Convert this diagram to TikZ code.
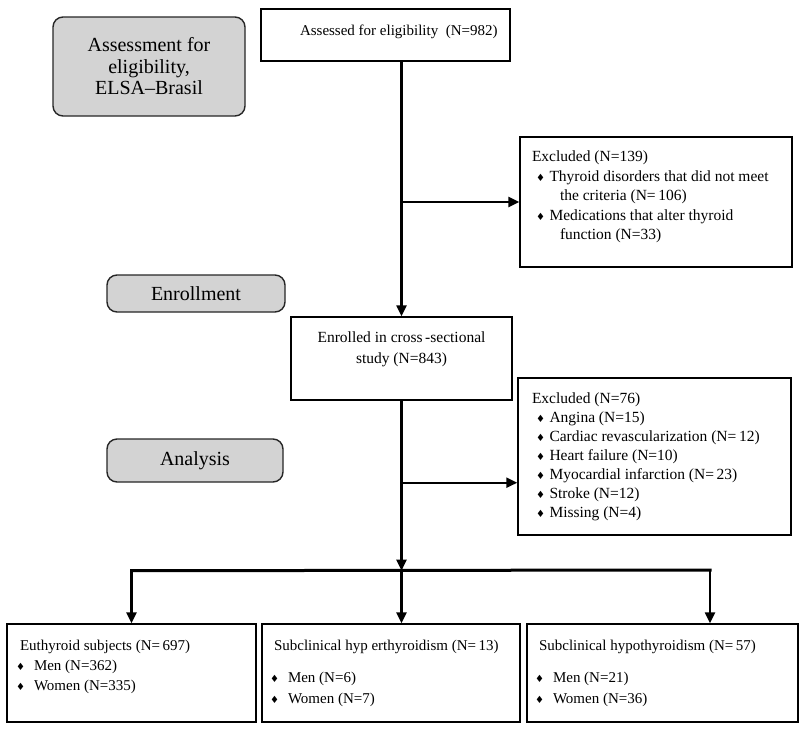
\documentclass[tikz,border=0pt]{standalone}
\usepackage{fontspec}
\setmainfont{Liberation Serif}
\newfontfamily\dejavu{DejaVu Sans}
\usetikzlibrary{positioning,arrows.meta}

\definecolor{phasegray}{RGB}{211,211,211}
\newcommand{\dmd}{{\dejavu\fontsize{10}{10}\selectfont ♦}}
\newcommand{\exitem}[1]{\hspace*{4pt}\makebox[13.5pt][l]{\dmd}#1}
\newcommand{\grpitem}[1]{\hspace*{-4pt}\makebox[18pt][l]{\dmd}#1}
\newcommand{\boxtext}[3]{\parbox[c][#2][t]{#1}{\raggedright #3}}

\begin{document}
\begin{tikzpicture}[x=1pt, y=-1pt,
        phase/.style={
            rectangle, rounded corners=10pt, draw=black!85, line width=1.4pt,
            fill=phasegray, align=center, inner sep=0pt,
            font=\fontsize{20}{21.5}\selectfont
        },
        stepbox/.style={
            rectangle, draw=black, line width=1.4pt,
            font=\fontsize{15.5}{19.5}\selectfont
        },
        flow/.style={line width=2.3pt, -{Triangle[length=11pt,width=10pt]}},
        rail/.style={line width=3pt, line cap=rect},
    ]
    \useasboundingbox (0,0) rectangle (800,731);

    % phase labels on the left
    \node (phaseAssess) [phase, minimum width=192pt, minimum height=99pt] at (149,66.5)
        {Assessment for\\ eligibility,\\ ELSA–Brasil};
    \node (phaseEnroll) [phase, minimum width=178pt, minimum height=37pt] at (196,293.5) {Enrollment};
    \node (phaseAnalysis) [phase, minimum width=176pt, minimum height=43pt] at (195,460.5) {Analysis};

    % main flow
    \node (assessed) [stepbox, inner xsep=8pt, inner ysep=15.5pt, font=\fontsize{15}{19}\selectfont] at (385.5,35)
        {\boxtext{233pt}{21pt}{\hspace*{31pt}\mbox{Assessed for eligibility\ \ (N=982)}}};

    \node (exclA) [stepbox, inner xsep=12pt, inner ysep=14pt] at (656,202)
        {\boxtext{248pt}{102pt}{Excluded (N=139)\\
            \exitem{Thyroid disorders that did not meet}\\
            \hspace*{28pt}the criteria (N=\,106)\\
            \exitem{Medications that alter thyroid}\\
            \hspace*{28pt}function (N=33)}};

    \node (enrolled) [stepbox, inner xsep=8pt, inner ysep=15pt, font=\fontsize{15.5}{21}\selectfont] at (401.5,358.5)
        {\boxtext{205pt}{53pt}{\centering Enrolled in cross\,-sectional\\ study (N=843)}};

    \node (exclB) [stepbox, inner xsep=14pt, inner ysep=15pt, font=\fontsize{15.5}{19}\selectfont] at (654.5,456.5)
        {\boxtext{245pt}{127pt}{Excluded (N=76)\\
            \exitem{Angina (N=15)}\\
            \exitem{Cardiac revascularization (N=\,12)}\\
            \exitem{Heart failure (N=10)}\\
            \exitem{Myocardial infarction (N=\,23)}\\
            \exitem{Stroke (N=12)}\\
            \exitem{Missing (N=4)}}};

    % groups
    \node (euthyroid) [stepbox, inner xsep=13pt, inner ysep=16pt, font=\fontsize{15}{20}\selectfont] at (131.5,673)
        {\boxtext{223pt}{66pt}{Euthyroid subjects (N=\,697)\\
            \grpitem{Men (N=362)}\\
            \grpitem{Women (N=335)}}};
    \node (hyper) [stepbox, inner xsep=12pt, inner ysep=16pt, font=\fontsize{15}{21}\selectfont] at (391,673)
        {\boxtext{234pt}{66pt}{Subclinical hyp erthyroidism (N=\,13)\\[11pt]
            \grpitem{Men (N=6)}\\
            \grpitem{Women (N=7)}}};
    \node (hypo) [stepbox, inner xsep=12pt, inner ysep=16pt, font=\fontsize{15}{21}\selectfont] at (662.5,673)
        {\boxtext{247pt}{66pt}{Subclinical hypothyroidism (N=\,57)\\[11pt]
            \grpitem{Men (N=21)}\\
            \grpitem{Women (N=36)}}};

    \path (assessed.south -| enrolled.north) edge[flow] (enrolled.north);
    \coordinate (toExclA) at (enrolled.north |- exclA.west);
    \path (toExclA) edge[flow] (exclA.west);

    \coordinate (toExclB) at (enrolled.south |- phaseAnalysis.south);
    \path (toExclB) edge[flow] (toExclB -| exclB.west);

    \coordinate (split) at ([yshift=-170pt]enrolled.south);
    \coordinate (dropRight) at (710,570);
    \draw[flow] (enrolled.south) -- (split);
    \draw[rail] (split -| euthyroid.north) -- (dropRight);
    \draw[flow] (split -| euthyroid.north) -- (euthyroid.north);
    \draw[flow] (split) -- (split |- hyper.north);
    \draw[flow] (dropRight) -- (dropRight |- hypo.north);

\end{tikzpicture}
\end{document}
